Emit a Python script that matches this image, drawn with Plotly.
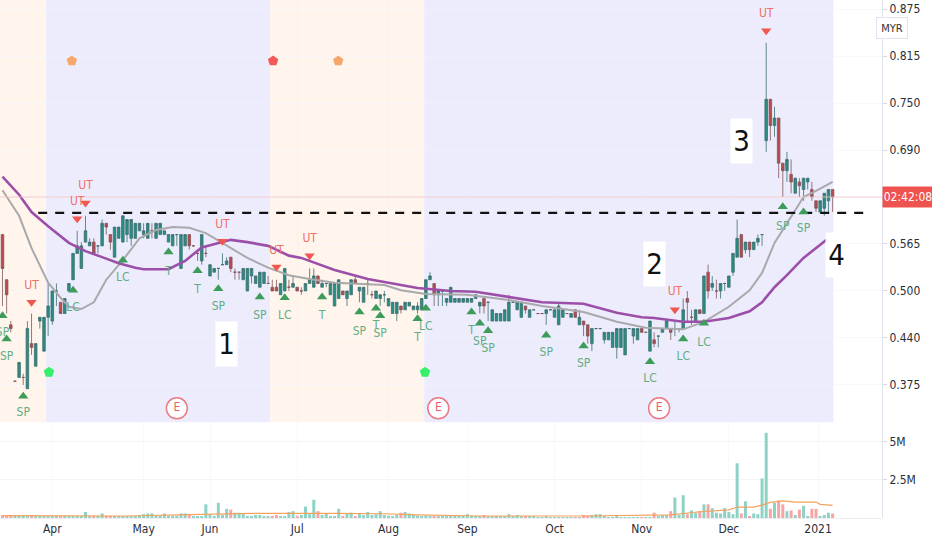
import plotly.graph_objects as go

# prices, one row per 10 bars
opens = [
    .575,.515,.455,.38,.385,.385,.37,.43,.40,.46,
    .42,.465,.46,.50,.485,.47,.50,.515,.55,.53,
    .565,.56,.565,.56,.56,.59,.575,.545,.57,.565,
    .575,.57,.57,.58,.575,.57,.58,.57,.575,.575,
    .565,.56,.575,.53,.56,.575,.56,.55,.54,.55,
    .52,.525,.53,.535,.535,.545,.525,.525,.515,.50,
    .52,.51,.505,.51,.51,.505,.505,.495,.50,.505,
    .505,.505,.50,.50,.51,.505,.52,.505,.51,.495,
    .48,.49,.50,.49,.495,.515,.50,.485,.51,.495,
    .49,.49,.495,.48,.47,.47,.48,.475,.48,.475,
    .475,.475,.49,.515,.51,.495,.50,.485,.485,.485,
    .485,.485,.485,.485,.49,.48,.49,.485,.46,.46,
    .46,.46,.46,.485,.475,.465,.48,.465,.475,.47,
    .47,.47,.475,.465,.455,.465,.47,.465,.475,.455,
    .46,.455,.43,.45,.45,.435,.435,.425,.425,.425,
    .415,.45,.44,.435,.45,.445,.42,.435,.44,.445,
    .45,.45,.45,.45,.45,.49,.465,.46,.475,.47,
    .525,.505,.50,.50,.51,.505,.525,.545,.575,.555,
    .565,.555,.565,.575,.70,.755,.72,.73,.67,.66,
    .655,.63,.645,.635,.645,.635,.62,.605,.61,.62,.635,
]
highs = [
    .575,.515,.46,.38,.405,.39,.46,.47,.43,.465,
    .465,.51,.50,.51,.485,.49,.51,.55,.58,.565,
    .60,.57,.57,.56,.595,.59,.575,.585,.585,.60,
    .595,.595,.59,.59,.59,.59,.59,.59,.59,.58,
    .575,.575,.575,.575,.575,.575,.56,.55,.575,.56,
    .535,.53,.53,.55,.545,.545,.53,.525,.53,.53,
    .53,.52,.525,.525,.52,.515,.515,.51,.53,.515,
    .52,.505,.505,.51,.53,.53,.52,.515,.51,.51,
    .51,.515,.50,.50,.515,.52,.505,.505,.515,.50,
    .50,.495,.50,.49,.485,.485,.48,.485,.485,.48,
    .485,.49,.515,.525,.51,.50,.50,.49,.505,.49,
    .49,.49,.49,.49,.495,.485,.49,.485,.475,.47,
    .47,.475,.495,.485,.485,.485,.48,.475,.475,.47,
    .47,.475,.475,.475,.485,.475,.47,.47,.475,.475,
    .46,.455,.45,.45,.45,.445,.445,.445,.45,.45,
    .45,.45,.45,.45,.45,.445,.46,.445,.44,.45,
    .46,.45,.46,.45,.49,.50,.475,.475,.475,.52,
    .535,.52,.515,.51,.51,.52,.55,.595,.575,.565,
    .565,.565,.575,.575,.83,.755,.745,.73,.67,.685,
    .675,.65,.65,.65,.65,.645,.62,.62,.63,.635,.635,
]
lows = [
    .48,.47,.445,.38,.385,.375,.37,.415,.40,.45,
    .42,.44,.455,.48,.47,.47,.50,.515,.55,.53,
    .565,.56,.55,.55,.56,.575,.555,.545,.57,.565,
    .565,.56,.57,.58,.57,.57,.57,.57,.575,.575,
    .565,.56,.56,.53,.56,.555,.56,.54,.535,.545,
    .52,.525,.515,.535,.535,.525,.515,.515,.515,.50,
    .51,.51,.505,.51,.51,.50,.50,.495,.50,.50,
    .505,.50,.495,.50,.51,.505,.51,.505,.505,.495,
    .48,.49,.495,.48,.495,.51,.485,.485,.495,.49,
    .49,.48,.485,.48,.47,.46,.47,.475,.48,.475,
    .47,.475,.49,.515,.48,.48,.48,.48,.485,.485,
    .485,.485,.485,.485,.49,.47,.47,.46,.46,.46,
    .46,.46,.46,.485,.475,.465,.47,.465,.475,.47,
    .47,.455,.475,.465,.455,.465,.47,.465,.465,.455,
    .44,.43,.42,.45,.45,.43,.435,.425,.41,.425,
    .415,.45,.43,.435,.445,.445,.42,.425,.425,.445,
    .45,.435,.44,.445,.45,.46,.455,.46,.47,.47,
    .49,.50,.49,.49,.50,.505,.52,.545,.545,.55,
    .545,.555,.56,.56,.685,.70,.705,.65,.625,.645,
    .63,.63,.625,.62,.635,.62,.605,.605,.60,.605,.605,
]
closes = [
    .53,.495,.45,.38,.405,.385,.45,.425,.43,.465,
    .465,.48,.50,.50,.47,.49,.51,.55,.56,.56,
    .58,.565,.55,.56,.59,.585,.565,.585,.585,.60,
    .595,.595,.59,.59,.58,.59,.58,.59,.59,.58,
    .575,.575,.575,.575,.575,.56,.56,.55,.575,.55,
    .535,.53,.53,.535,.54,.53,.525,.525,.53,.53,
    .53,.52,.525,.525,.51,.50,.50,.51,.53,.505,
    .51,.50,.50,.51,.515,.52,.51,.51,.51,.51,
    .51,.515,.495,.50,.515,.51,.505,.505,.51,.495,
    .50,.495,.495,.49,.485,.485,.475,.485,.485,.48,
    .48,.49,.515,.52,.495,.50,.50,.49,.505,.49,
    .49,.49,.49,.49,.495,.485,.48,.485,.475,.47,
    .47,.475,.485,.485,.485,.485,.475,.475,.475,.47,
    .47,.475,.475,.475,.48,.475,.47,.47,.465,.465,
    .455,.44,.45,.45,.45,.445,.445,.445,.45,.45,
    .45,.45,.45,.45,.445,.445,.46,.43,.44,.45,
    .46,.445,.45,.45,.475,.485,.465,.475,.47,.52,
    .50,.51,.50,.51,.51,.52,.55,.57,.545,.565,
    .555,.565,.57,.575,.755,.72,.73,.67,.66,.675,
    .645,.65,.64,.65,.65,.625,.61,.62,.63,.635,.625,
]
volumes = [
    .18,.15,.18,.08,.08,.08,.08,.2,.1,.1,
    .08,.08,.08,.08,.08,.08,.08,.08,.1,.1,
    .4,.1,.15,.08,.3,.1,.08,.08,.08,.08,
    .08,.08,.1,.2,.25,.3,.3,.15,.15,.3,
    .15,.15,.15,.3,.3,.25,.12,.12,.1,.9,
    .25,.12,1.0,.2,.6,.55,.35,.35,.3,.1,
    .1,.2,.2,.1,.08,.12,.2,.1,.1,.4,
    .45,.15,.2,.75,.25,1.2,.45,.2,.3,.1,
    .1,.6,.1,.3,.35,.1,.3,.2,.4,.2,
    .25,.45,.2,.15,.1,.2,.35,.4,.3,.2,
    .15,.12,.15,.1,.12,.12,.1,.1,.12,.12,
    .1,.1,.25,.12,.12,.12,.2,.1,.1,.1,
    .1,.1,.25,.1,.2,.1,.1,.08,.08,.06,
    .06,.08,.06,.06,.06,.06,.06,.05,.05,.05,
    .2,.15,.2,.25,.25,.1,.05,.05,.15,.06,
    .05,.05,.05,.06,.05,.05,.06,.35,.1,.2,
    .2,.45,1.35,.2,1.5,.25,.5,.35,.45,.9,
    .9,.65,.35,.3,.65,.4,.25,3.6,.3,1.1,
    .1,.3,.25,2.6,5.6,.6,1.0,1.15,.9,.45,
    .5,.2,.55,.8,.1,.6,.6,.1,.2,.35,.3,
]
assert len(opens) == len(highs) == len(lows) == len(closes) == len(volumes) == 201
bars = list(range(201))

purple_x = [0,4,7,11,16,20,24,28,32,34,40,44,48,51,55,59,64,69,72,80,88,100,108,114,122,130,140,148,154,157,164,169,175,180,183,186,189,193,199]
purple_y = [.652,.628,.605,.586,.564,.553,.545,.537,.531,.529,.529,.540,.558,.562,.568,.565,.560,.547,.544,.528,.516,.504,.500,.499,.492,.485,.483,.471,.465,.464,.459,.459,.464,.473,.485,.505,.521,.544,.570]
grey_x = [0,4,7,11,14,16,19,22,25,29,33,37,41,45,49,54,59,64,69,74,80,92,96,102,112,122,130,140,148,155,164,169,175,180,183,186,189,193,196,200]
grey_y = [.634,.600,.557,.511,.491,.479,.476,.485,.515,.541,.570,.581,.585,.584,.577,.561,.544,.531,.521,.516,.511,.508,.501,.496,.495,.488,.480,.472,.459,.451,.449,.459,.479,.501,.524,.564,.590,.625,.633,.645]
volma_x = [0,20,30,45,60,80,92,100,115,140,161,168,175,177,181,183,185,188,191,196,197,200]
volma_y = [.15,.13,.13,.22,.3,.3,.28,.2,.13,.13,.2,.41,.53,.72,.72,.85,1.03,1.12,1.05,1.05,.9,.83]

up_x = [0,1,5,17,29,40,47,52,62,68,77,86,90,91,100,102,113,115,117,131,140,156,164,169,188,193]
up_y = [.467,.436,.360,.501,.541,.552,.527,.503,.492,.491,.492,.472,.477,.467,.463,.477,.472,.457,.447,.441,.427,.406,.436,.457,.612,.605]
up_text = ["SP","SP","SP","LC","LC","T","T","SP","SP","LC","T","SP","T","SP","T","LC","T","SP","SP","SP","SP","LC","LC","LC","SP","SP"]
up_text_y = [.444,.412,.338,.477,.517,.525,.501,.479,.467,.467,.467,.445,.453,.443,.438,.452,.447,.432,.423,.418,.403,.383,.412,.431,.585,.582]
down_x = [7,18,20,53,66,74,162,184]
down_y = [.485,.596,.617,.566,.532,.547,.475,.846]
down_text_y = [.507,.618,.640,.588,.553,.569,.499,.868]

pent_x = [11.2,16.7,65.2,80.9,101.8]
pent_y = [.392,.806,.806,.806,.392]
pent_colors = ["#35f06a","#f7a76c","#f45a5a","#f7a76c","#35f06a"]
earn_x = [42,105,158.2]
earn_y = [.344,.344,.344]

num_text = ["1","2","3","4"]
num_x = [53.9,157,178,200.9]
num_y = [.430,.536,.699,.548]

month_x = [12,34,50,71,93,112,133,154,175,196.5]
month_text = ["Apr","May","Jun","Jul","Aug","Sep","Oct","Nov","Dec","2021"]
price_ticks = [.375,.4375,.5,.5625,.625,.6875,.75,.8125,.875]
price_text = ["0.375","0.440","0.500","0.565","0.625","0.690","0.750","0.815","0.875"]
band_edges = [-0.6,10.5,64.5,101.6,200.2]
band_colors = ["#fff5ec","#ececfd","#fff5ec","#ececfd"]

FONT = "DejaVu Sans Condensed, Liberation Sans, sans-serif"
RED = "#f2574f"

fig = go.Figure()
fig.add_trace(go.Candlestick(x=bars, open=opens, high=highs, low=lows, close=closes,
    increasing=dict(fillcolor="#2a8d83", line=dict(color="#3d6f70", width=0.8)),
    decreasing=dict(fillcolor="#bb4a4d", line=dict(color="#80565a", width=0.8)),
    whiskerwidth=0))
fig.add_trace(go.Scatter(x=grey_x, y=grey_y, mode="lines", line=dict(color="#a9a8ab", width=2)))
fig.add_trace(go.Scatter(x=purple_x, y=purple_y, mode="lines", line=dict(color="#9c4fa8", width=2.6)))
fig.add_trace(go.Scatter(x=[8.6,208.6], y=[.604,.604], mode="lines", line=dict(color="#111111", width=2.2, dash="9px,8px")))
fig.add_trace(go.Scatter(x=[-0.6,211.9], y=[.625,.625], mode="lines", line=dict(color="#f6c4c4", width=0.8)))

fig.add_trace(go.Scatter(x=up_x, y=up_y, mode="markers", marker=dict(symbol="triangle-up", size=9, color="#3d9c5a")))
fig.add_trace(go.Scatter(x=up_x, y=up_text_y, mode="text", text=up_text, textfont=dict(family=FONT, size=12, color="#62ad82")))
fig.add_trace(go.Scatter(x=down_x, y=down_y, mode="markers", marker=dict(symbol="triangle-down", size=9, color=RED)))
fig.add_trace(go.Scatter(x=down_x, y=down_text_y, mode="text", text=["UT"] * len(down_x), textfont=dict(family=FONT, size=12, color="#f0706a")))
fig.add_trace(go.Scatter(x=pent_x, y=pent_y, mode="markers", marker=dict(symbol="pentagon", size=11, color=pent_colors)))
fig.add_trace(go.Scatter(x=earn_x, y=earn_y, mode="markers+text", text=["E"] * 3, textposition="middle center",
    textfont=dict(family=FONT, size=12, color="#e8616e"),
    marker=dict(symbol="circle", size=21, color="white", line=dict(color="#e97a86", width=1.5))))

vol_colors = ["#f6a5a5" if c < o else "#8ed2c6" for o, c in zip(opens, closes)]
fig.add_trace(go.Bar(x=bars, y=volumes, marker=dict(color=vol_colors, line=dict(width=0)), width=0.72, yaxis="y2"))
fig.add_trace(go.Scatter(x=volma_x, y=volma_y, mode="lines", line=dict(color="#f5a25d", width=1.2), yaxis="y2"))

for i in range(len(band_colors)):
    fig.add_shape(type="rect", xref="x", yref="y domain", x0=band_edges[i], x1=band_edges[i + 1], y0=0.004, y1=1,
                  fillcolor=band_colors[i], line_width=0, layer="below")

for t, x, y in zip(num_text, num_x, num_y):
    fig.add_annotation(x=x, y=y, xref="x", yref="y", text=t, showarrow=False, bgcolor="white",
                       width=19, height=42, font=dict(family=FONT, size=29, color="#111111"))

fig.add_annotation(xref="paper", yref="paper", x=882 / 932, y=1 - 197 / 550, xanchor="left", text="02:42:08",
                   showarrow=False, bgcolor="#ef5350", width=50, height=20, borderpad=0,
                   font=dict(family=FONT, size=12, color="white"))
fig.add_annotation(xref="paper", yref="paper", x=908 / 932, y=1 - 17 / 550, text="MYR", showarrow=False,
                   bgcolor="white", bordercolor="#e0e3eb", borderwidth=1, width=28, height=18,
                   font=dict(family=FONT, size=11, color="#333333"))

fig.update_layout(
    width=932, height=550, margin=dict(l=0, r=0, t=0, b=0),
    paper_bgcolor="white", plot_bgcolor="white", showlegend=False, bargap=0.28, boxgap=0.12,
    font=dict(family=FONT, size=12, color="#2a2e39"),
    xaxis=dict(domain=[0, 882 / 932], range=[-0.6, 211.9], anchor="y2", rangeslider=dict(visible=False),
               tickmode="array", tickvals=month_x, ticktext=month_text, showgrid=True, gridcolor="rgba(235,238,245,0.35)",
               zeroline=False, showline=True, linecolor="#eceef3", ticks="", tickfont=dict(size=12)),
    yaxis=dict(domain=[126 / 550, 1], range=[.3231, .887], side="right", anchor="free", position=882 / 932,
               tickmode="array", tickvals=price_ticks, ticktext=price_text, showgrid=True, gridcolor="rgba(240,243,250,0.6)",
               zeroline=False, showline=True, linecolor="#e0e3eb", ticks="outside", ticklen=4, tickcolor="#d5d8e0",
               tickfont=dict(size=12)),
    yaxis2=dict(domain=[32 / 550, 126 / 550], range=[0, 6.18], side="right", anchor="free", position=882 / 932,
                tickmode="array", tickvals=[2.5, 5], ticktext=["2.5M", "5M"], showgrid=True, gridcolor="#f3f4f8",
                zeroline=False, showline=True, linecolor="#e0e3eb", ticks="outside", ticklen=4, tickcolor="#d5d8e0",
                tickfont=dict(size=12)),
)

fig.write_html("out.html", config={"displayModeBar": False}, post_script="document.body.style.margin='0';")
